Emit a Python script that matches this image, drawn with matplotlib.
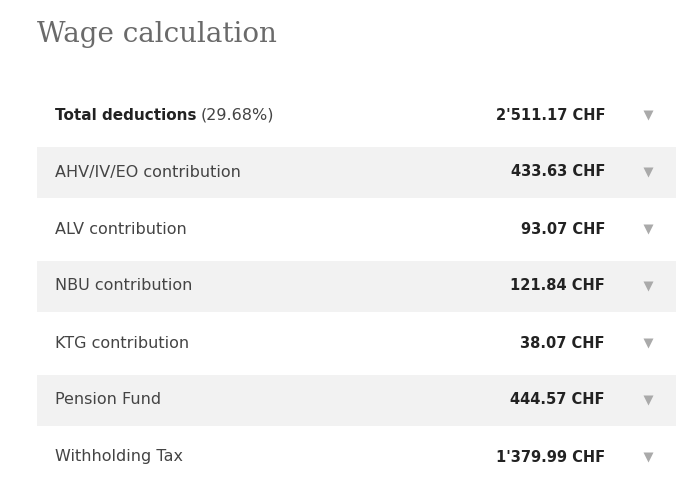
import matplotlib
matplotlib.use("Agg")
import matplotlib.pyplot as plt
from matplotlib.patches import Rectangle

TITLE = "Wage calculation"
LABELS = ["Total deductions", "AHV/IV/EO contribution", "ALV contribution", "NBU contribution",
          "KTG contribution", "Pension Fund", "Withholding Tax"]
AMOUNTS = [2511.17, 433.63, 93.07, 121.84, 38.07, 444.57, 1379.99]
TOTAL_PCT = 29.68


def chf(v):
    s = f"{v:,.2f}".replace(",", "'")
    return f"{s} CHF"


fig = plt.figure(figsize=(6.9, 4.91), dpi=100)
ax = fig.add_axes([0, 0, 1, 1])
ax.set_xlim(0, 690); ax.set_ylim(491, 0); ax.axis("off")

ax.text(37, 34, TITLE, fontsize=20, family="DejaVu Serif", color="#6a6a6a", va="center")

row_h, y0 = 57, 115
for i, (lab, amt) in enumerate(zip(LABELS, AMOUNTS)):
    yc = y0 + i * row_h
    if i % 2 == 1:
        ax.add_patch(Rectangle((37, yc - 25), 639, 51, color="#f2f2f2", lw=0))
    if i == 0:
        t = ax.text(55, yc, lab, fontsize=11, color="#222222", weight="bold", va="center")
        fig.canvas.draw()
        bb = t.get_window_extent().transformed(ax.transData.inverted())
        ax.text(bb.x1 + 4, yc, f"({TOTAL_PCT:.2f}%)", fontsize=11.5, color="#444444", va="center")
    else:
        ax.text(55, yc, lab, fontsize=11.5, color="#444444", va="center")
    ax.text(605, yc, chf(amt), fontsize=10.5, color="#222222", weight="bold", va="center", ha="right")
    ax.plot([648], [yc], marker="v", ms=7, color="#aaaaaa", mec="none")

fig.savefig("out.png", dpi=100)
